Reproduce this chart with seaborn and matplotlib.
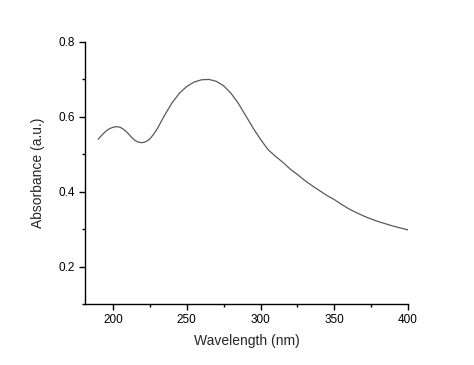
import matplotlib
matplotlib.use('Agg')
import matplotlib.pyplot as plt
from matplotlib.ticker import MultipleLocator
import seaborn as sns
import pandas as pd

# UV-vis spectrum
wavelength = [190, 192.5, 195, 197.5, 200, 202.5, 205, 207.5, 210, 212.5, 215,
              217.5, 220, 222.5, 225, 227.5, 230, 235, 240, 245, 250, 255, 260,
              265, 270, 275, 280, 285, 290, 295, 300, 305, 310, 315, 320, 325,
              330, 335, 340, 345, 350, 355, 360, 365, 370, 375, 380, 385, 390,
              395, 400]
absorbance = [0.540, 0.551, 0.561, 0.568, 0.572, 0.574, 0.572, 0.566, 0.557,
              0.546, 0.537, 0.532, 0.531, 0.534, 0.541, 0.553, 0.568, 0.604,
              0.637, 0.663, 0.681, 0.693, 0.699, 0.700, 0.695, 0.683, 0.663,
              0.636, 0.603, 0.570, 0.540, 0.513, 0.495, 0.479, 0.461, 0.446,
              0.430, 0.416, 0.403, 0.390, 0.379, 0.366, 0.354, 0.344, 0.335,
              0.327, 0.320, 0.314, 0.308, 0.303, 0.298]

df = pd.DataFrame({'Wavelength': wavelength, 'Absorbance': absorbance})

sns.set_style('ticks')
plt.rcParams['font.family'] = ['Liberation Sans', 'DejaVu Sans']

fig = plt.figure(figsize=(4.74, 3.65), dpi=100)
ax = fig.add_axes([0.179, 0.167, 0.682, 0.718])

sns.lineplot(data=df, x='Wavelength', y='Absorbance', ax=ax, color='#5a5a5a', linewidth=0.9)

ax.set_xlim(181, 400)
ax.set_ylim(0.1, 0.8)
ax.xaxis.set_major_locator(MultipleLocator(50))
ax.xaxis.set_minor_locator(MultipleLocator(25))
ax.yaxis.set_major_locator(MultipleLocator(0.2))
ax.yaxis.set_minor_locator(MultipleLocator(0.1))
ax.tick_params(which='major', direction='out', length=4, width=1, labelsize=8.5, colors='black', pad=3)
ax.tick_params(which='minor', direction='out', length=2.5, width=1, colors='black')
ax.set_xlabel('Wavelength (nm)', fontsize=10, labelpad=6)
ax.set_ylabel('Absorbance (a.u.)', fontsize=10, labelpad=10)
sns.despine(ax=ax)
for s in ['left', 'bottom']:
    ax.spines[s].set_linewidth(1)
    ax.spines[s].set_color('black')

fig.savefig('out.png', dpi=100)
